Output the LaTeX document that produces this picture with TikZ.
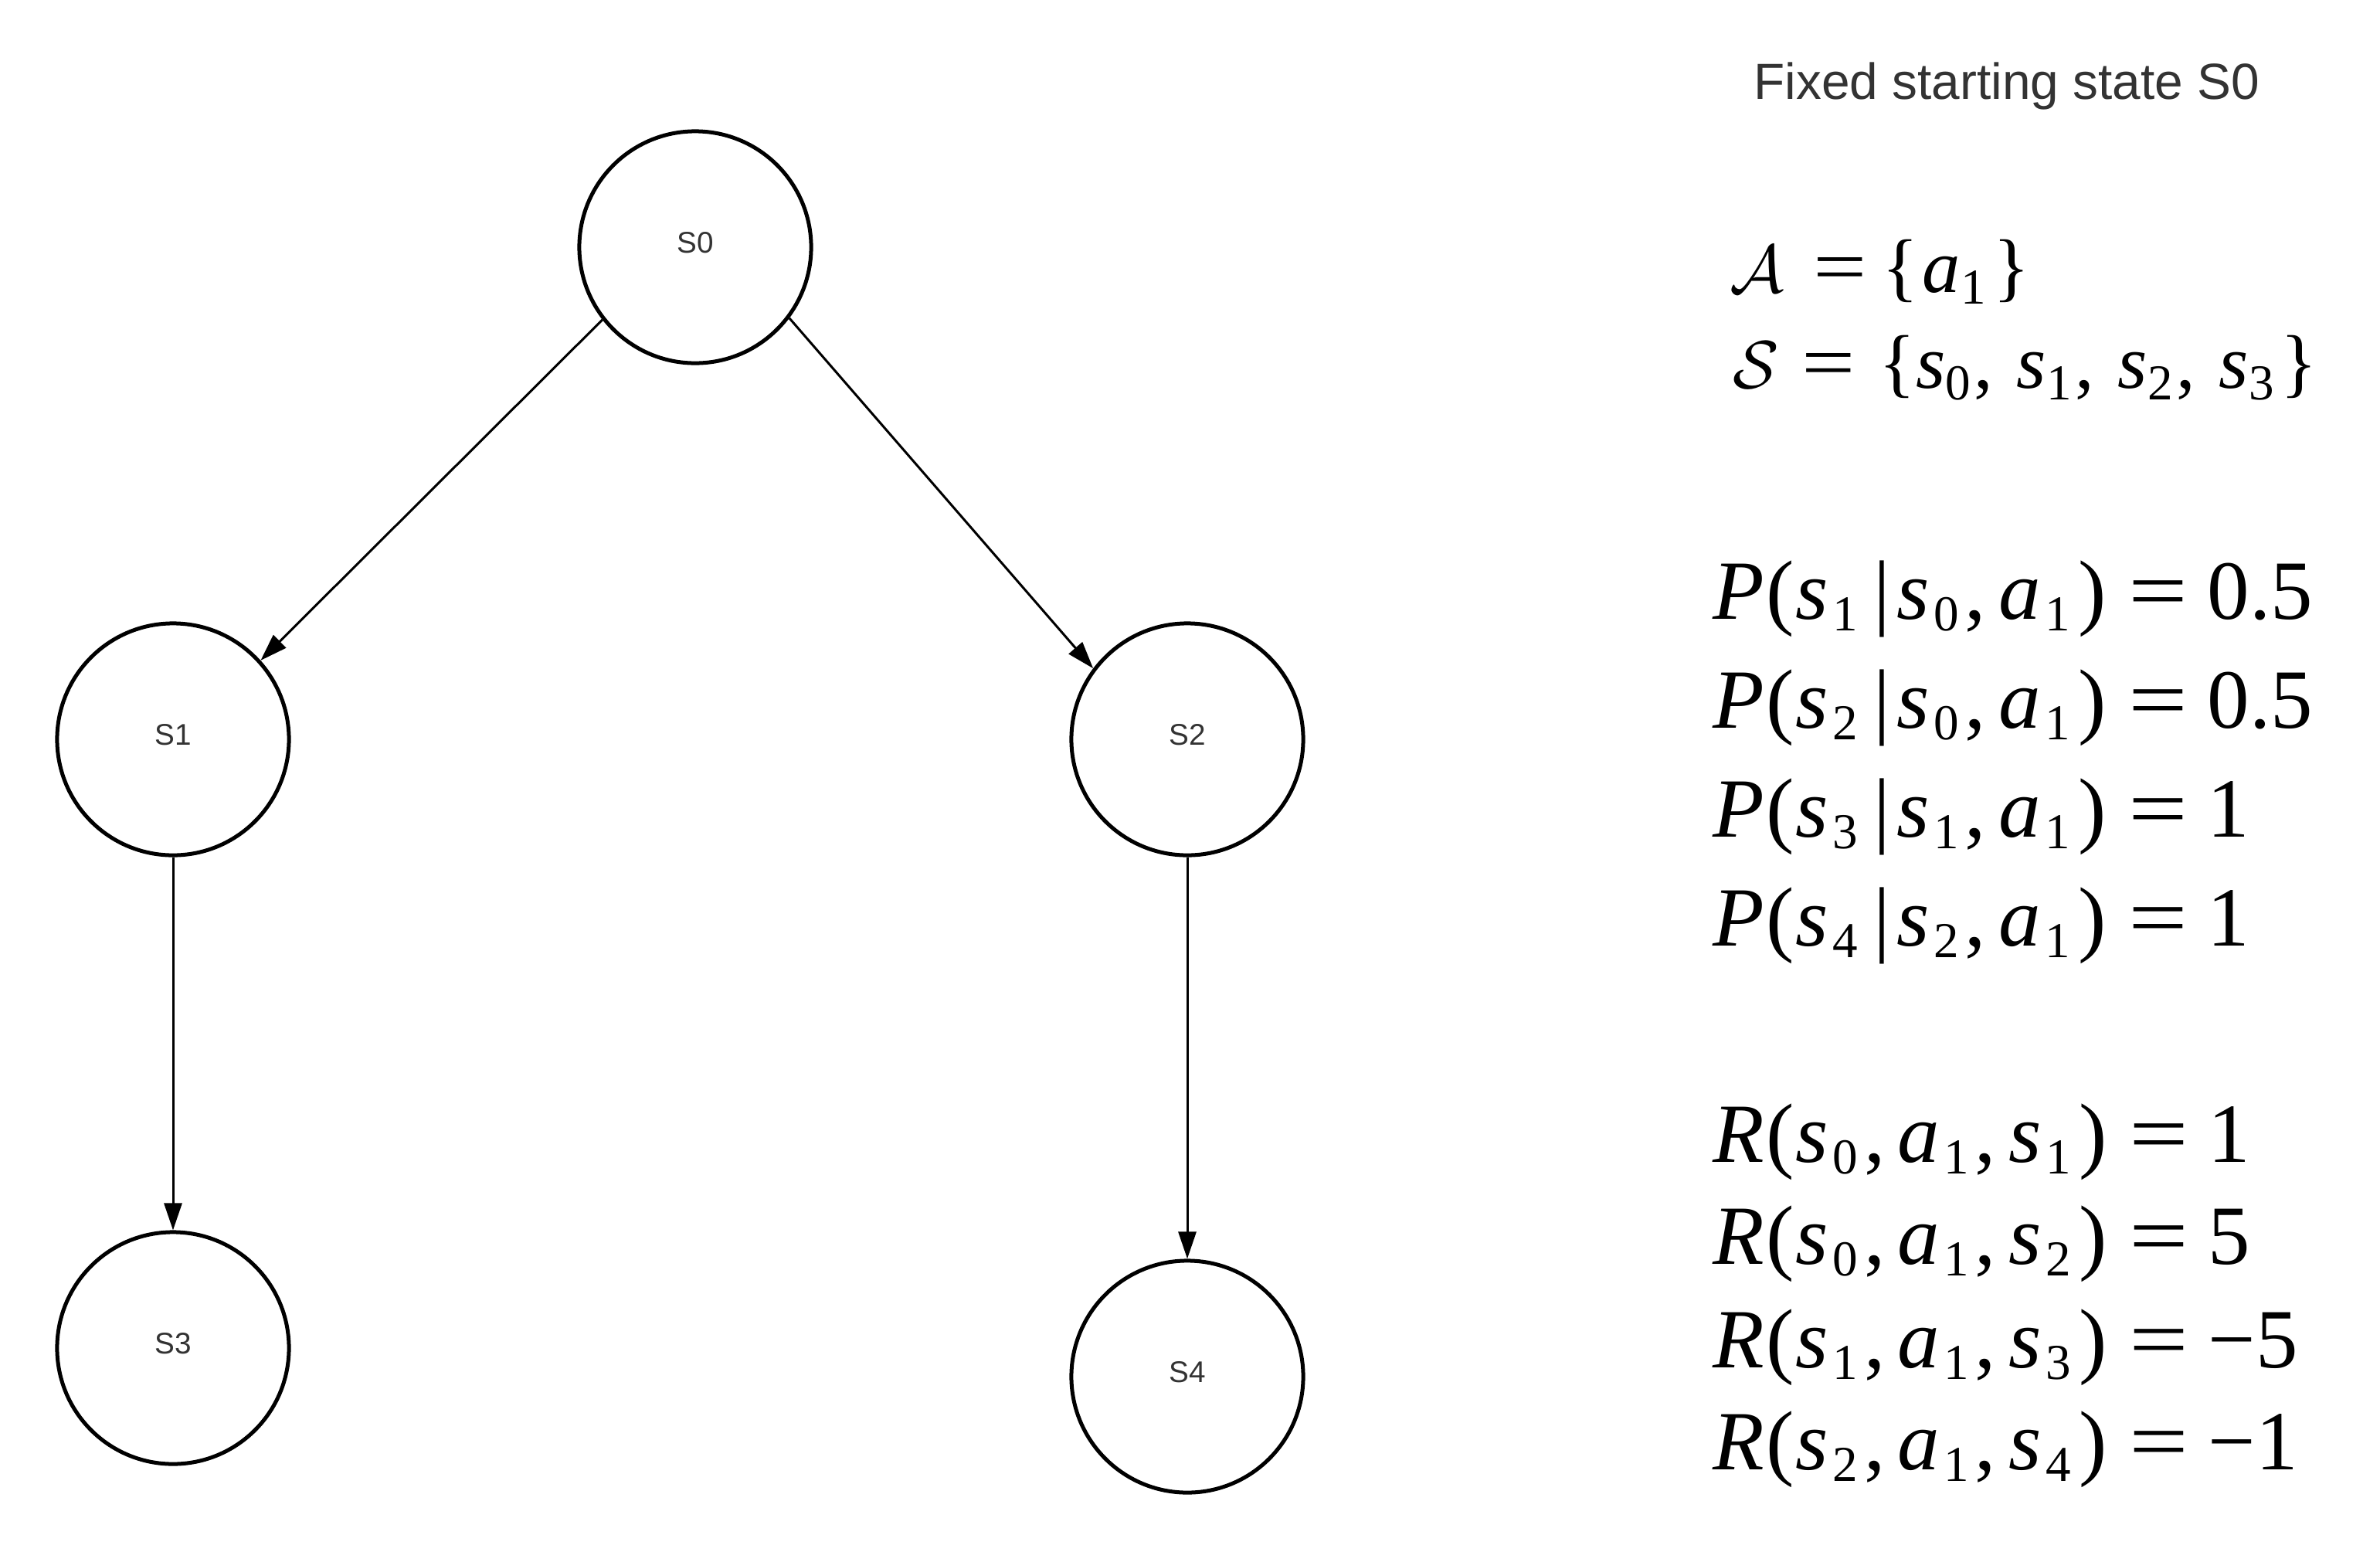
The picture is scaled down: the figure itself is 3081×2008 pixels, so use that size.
\documentclass[tikz,border=0pt]{standalone}
\usepackage{fontspec}
\usepackage{graphicx}
\setmainfont{Liberation Serif}
\newfontfamily\arialf{Liberation Sans}
\usetikzlibrary{arrows.meta}
\definecolor{txtgray}{HTML}{333333}
\newcommand\lo[1]{\raisebox{-4.5pt}{\fontsize{18.5pt}{18.5pt}\selectfont #1}}
\newcommand\vv[1]{\textit{#1}}
\newcommand\eqs{\scalebox{1.25}[1]{=}}
\newcommand\zzS[2]{\vv{#1}\hspace{.05em}\lo{#2}}
\newcommand\zzC{\hspace{.07em},\hspace{.15em}}
\newcommand\zzV{\hspace{.18em}|\hspace{.08em}}
\newcommand\zzL[1]{\vv{#1}\hspace{.02em}(\hspace{.02em}}
\newcommand\zzR{\hspace{.1em})\hspace{.265em}\eqs\hspace{.23em}}
\newcommand\zzSC{\hspace{.05em},\hspace{.31em}}
\tikzset{
  state/.style={circle,draw,line width=0.5mm,minimum size=3cm,inner sep=0pt,
    text height=7.9pt,text depth=3.4pt,
    font=\arialf\fontsize{11pt}{13pt}\selectfont,text=txtgray},
  conn/.style={line width=0.3mm,-{Triangle[length=3.5mm,width=2.3mm]}},
  eq/.style={anchor=base west,inner sep=0pt,font=\fontsize{31pt}{31pt}\selectfont},
  eqset/.style={anchor=base west,inner sep=0pt,font=\fontsize{28pt}{28pt}\selectfont},
  titletext/.style={anchor=base west,inner sep=0pt,
    font=\arialf\fontsize{18.7pt}{20pt}\selectfont,text=txtgray}
}
\begin{document}
\begin{tikzpicture}[x=0.01cm,y=-0.01cm]
\useasboundingbox (0,0) rectangle (3081,2008);
\node[state] (s0) at (900,320) {S0};
\node[state] (s1) at (224,957) {S1};
\node[state] (s2) at (1537,957) {S2};
\node[state] (s3) at (224,1745) {S3};
\node[state] (s4) at (1537,1782) {S4};
\draw[conn] (s0.218) -- (s1.42);
\draw[conn] (s0.323) -- (s2.143);
\draw[conn] (s1) -- (s3);
\draw[conn] (s2) -- (s4);
\node[titletext] (title) at (2270,128) {Fixed starting state S0};
\node[eqset] (ea) at (2239,378) {\(\mathcal{A}\)\hspace{.385em}\eqs\hspace{.2em}\{\hspace{.05em}\vv{a}\lo{1}\hspace{.1em}\}};
\node[eqset] (es) at (2243,502) {\(\mathcal{S}\)\hspace{.3em}\eqs\hspace{.31em}\{\vv{s}\lo{0}\zzSC\vv{s}\lo{1}\zzSC\vv{s}\lo{2}\zzSC\vv{s}\lo{3}\hspace{.09em}\}};
\node[eq] (p1) at (2217,801) {\zzL{P}\zzS{s}{1}\zzV\zzS{s}{0}\zzC\zzS{a}{1}\zzR0.5};
\node[eq] (p2) at (2217,942) {\zzL{P}\zzS{s}{2}\zzV\zzS{s}{0}\zzC\zzS{a}{1}\zzR0.5};
\node[eq] (p3) at (2217,1083) {\zzL{P}\zzS{s}{3}\zzV\zzS{s}{1}\zzC\zzS{a}{1}\zzR1};
\node[eq] (p4) at (2217,1224) {\zzL{P}\zzS{s}{4}\zzV\zzS{s}{2}\zzC\zzS{a}{1}\zzR1};
\node[eq] (r1) at (2217,1504) {\zzL{R}\zzS{s}{0}\zzC\zzS{a}{1}\zzC\zzS{s}{1}\zzR1};
\node[eq] (r2) at (2217,1636) {\zzL{R}\zzS{s}{0}\zzC\zzS{a}{1}\zzC\zzS{s}{2}\zzR5};
\node[eq] (r3) at (2217,1770) {\zzL{R}\zzS{s}{1}\zzC\zzS{a}{1}\zzC\zzS{s}{3}\zzR−5};
\node[eq] (r4) at (2217,1902) {\zzL{R}\zzS{s}{2}\zzC\zzS{a}{1}\zzC\zzS{s}{4}\zzR−1};
\end{tikzpicture}
\end{document}
